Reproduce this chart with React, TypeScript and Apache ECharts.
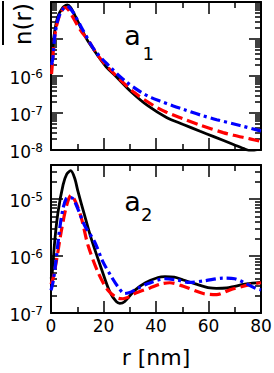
import React, { useEffect, useRef } from "react";
import * as echarts from "echarts";

const FONT = "DejaVu Sans";

// Panel a1
const a1BlackR = [0.3, 1, 2, 3, 4, 5, 6.2, 7.5, 9, 11.6, 14, 17.9, 21, 24.3, 30.6, 37, 44, 50.4, 56.8, 62, 69.5, 74, 80];
const a1BlackN = [2.5e-6, 1.0e-5, 2.8e-5, 4.7e-5, 6.3e-5, 7.6e-5, 8.3e-5, 7.1e-5, 4.5e-5, 1.86e-5, 8.9e-6, 3.5e-6, 1.78e-6, 1.05e-6, 3.7e-7, 1.55e-7, 7.6e-8, 4.9e-8, 3.2e-8, 2.3e-8, 1.41e-8, 1.05e-8, 7.4e-9];
const a1RedR = [0.2, 0.6, 1, 1.4, 2, 3, 4, 5.1, 6.5, 8, 10, 12, 14.1, 17.9, 24.3, 31.9, 38.9, 44, 50, 56.8, 65.6, 69.5, 75.8, 80];
const a1RedN = [1.12e-6, 2.5e-6, 6.3e-6, 1.12e-5, 2.1e-5, 3.8e-5, 5.6e-5, 7.1e-5, 6.3e-5, 4.3e-5, 2.4e-5, 1.45e-5, 9.5e-6, 3.55e-6, 1.1e-6, 3.5e-7, 1.62e-7, 1.05e-7, 7.1e-8, 4.7e-8, 2.95e-8, 2.5e-8, 2.0e-8, 1.7e-8];
const a1BlueR = [0.2, 0.76, 1.4, 2.7, 4.6, 5.8, 7, 9, 11.6, 16.6, 21.7, 28, 34.4, 38.2, 41.5, 46.6, 50.4, 56.8, 63.1, 72, 78.4, 80];
const a1BlueN = [2.0e-6, 3.2e-6, 1.12e-5, 3.5e-5, 6.5e-5, 7.6e-5, 7.1e-5, 4.5e-5, 2.05e-5, 5.0e-6, 2.0e-6, 7.6e-7, 3.6e-7, 2.6e-7, 2.1e-7, 1.55e-7, 1.26e-7, 8.9e-8, 6.6e-8, 4.6e-8, 3.5e-8, 3.3e-8];

// Panel a2
const a2BlackR = [0, 0.4, 1.5, 2.7, 4.6, 6, 7.5, 9, 10.3, 12.8, 15.3, 19.2, 22.4, 24.9, 26.2, 28, 31.9, 36, 40.8, 43.4, 47, 50.4, 55, 60.6, 63, 66.9, 70, 74.5, 80];
const a2BlackN = [4.0e-7, 4.7e-7, 2.0e-6, 6.0e-6, 1.78e-5, 2.75e-5, 3.16e-5, 2.35e-5, 1.35e-5, 5.2e-6, 2.05e-6, 6.0e-7, 2.35e-7, 1.58e-7, 1.48e-7, 1.58e-7, 2.5e-7, 3.4e-7, 4.2e-7, 4.35e-7, 4.25e-7, 3.8e-7, 3.25e-7, 2.75e-7, 2.7e-7, 2.75e-7, 2.95e-7, 3.25e-7, 3.45e-7];
const a2RedR = [0, 0.8, 2, 3.9, 6, 7.7, 9.5, 11.6, 14.1, 17.9, 21.7, 25.5, 27.4, 29.5, 31.9, 37.7, 42, 45.3, 50.4, 58, 63.1, 68.2, 75.8, 80];
const a2RedN = [3.2e-7, 4.1e-7, 7.9e-7, 2.7e-6, 7.9e-6, 1.17e-5, 8.7e-6, 4.6e-6, 1.55e-6, 5.2e-7, 2.5e-7, 1.82e-7, 1.78e-7, 1.9e-7, 2.2e-7, 2.75e-7, 3.25e-7, 3.4e-7, 2.95e-7, 2.2e-7, 2.1e-7, 2.55e-7, 3.15e-7, 3.4e-7];
const a2BlueR = [0, 0.8, 2, 3.3, 4.6, 5.8, 7, 8.4, 10.5, 12.8, 16.6, 19.8, 23, 25.5, 28, 30.6, 33, 37, 43.4, 48, 52.8, 58.7, 65.6, 70, 74.5, 78, 80];
const a2BlueN = [2.5e-7, 3.55e-7, 9.1e-7, 3.0e-6, 6.9e-6, 1.02e-5, 1.07e-5, 1.02e-5, 6.3e-6, 3.45e-6, 1.78e-6, 7.9e-7, 4.35e-7, 2.9e-7, 2.2e-7, 2.35e-7, 2.7e-7, 3.3e-7, 4.0e-7, 3.8e-7, 3.45e-7, 3.7e-7, 4.1e-7, 4.0e-7, 3.25e-7, 2.7e-7, 2.55e-7];

// Axes (decade exponents)
const a1Decades = [-8, -7, -6, -5, -4];
const a1LabelDecades = [-8, -7, -6];
const a2Decades = [-7, -6, -5];
const a2LabelDecades = [-7, -6, -5];
const xTickLabels = [0, 20, 40, 60, 80];

const zip = (r: number[], n: number[]) => r.map((x, i) => [x, n[i]]);

function minorLogs(decades: number[], maxExp: number) {
  const out: number[] = [];
  decades.forEach((d) => {
    for (let k = 2; k <= 9; k++) {
      const v = d + Math.log10(k);
      if (v < maxExp) out.push(v);
    }
  });
  return out;
}

export default function App() {
  const ref = useRef<HTMLDivElement>(null);
  useEffect(() => {
    if (!ref.current) return;
    const chart = echarts.init(ref.current, null, { renderer: "svg" });

    const grids = [
      { left: 51, top: 2, width: 210, height: 148 },
      { left: 51, top: 165, width: 210, height: 148 },
    ];

    const xAx = (gi: number, pos: string, labels: boolean) => ({
      type: "value",
      gridIndex: gi,
      position: pos,
      min: 0,
      max: 80,
      interval: 20,
      axisLine: { show: true, onZero: false, lineStyle: { color: "#000", width: 2 } },
      axisTick: { show: true, inside: true, length: 12, lineStyle: { color: "#000", width: 1.5 } },
      minorTick: { show: true, splitNumber: 2, length: 6, lineStyle: { color: "#000", width: 1.5 } },
      splitLine: { show: false },
      axisLabel: {
        show: labels,
        fontFamily: FONT,
        fontSize: 17,
        color: "#000",
        margin: 4,
        customValues: xTickLabels,
      },
      name: labels ? "r [nm]" : "",
      nameLocation: "middle",
      nameGap: 33,
      nameTextStyle: { fontFamily: FONT, fontSize: 22, color: "#000" },
    });

    const rich = {
      b: { fontFamily: FONT, fontSize: 17, color: "#000", lineHeight: 20, padding: [6, 0, 0, 0], verticalAlign: "bottom" },
      s: { fontFamily: FONT, fontSize: 12, color: "#000", lineHeight: 14, padding: [2, 0, 0, 0], verticalAlign: "top" },
    };

    const tickAx = (gi: number, pos: string, mn: number, mx: number, ticks: number[], len: number, line: boolean, labels: number[] | null) => ({
      type: "value",
      gridIndex: gi,
      position: pos,
      min: mn,
      max: mx,
      axisLine: { show: line, onZero: false, lineStyle: { color: "#000", width: 2 } },
      axisTick: { show: true, inside: true, length: len, customValues: ticks, lineStyle: { color: "#000", width: 1.5 } },
      splitLine: { show: false },
      axisLabel: labels
        ? {
            show: true,
            customValues: labels,
            margin: 8,
            formatter: (v: number) => `{b|10}{s|${v}}`,
            rich,
          }
        : { show: false },
    });

    const a2Max = -4.4;
    const yAxes = [
      { type: "log", gridIndex: 0, min: 1e-8, max: 1e-4, show: false },
      tickAx(0, "left", -8, -4, a1Decades, 12, true, a1LabelDecades),
      tickAx(0, "left", -8, -4, minorLogs(a1Decades, -4), 6, false, null),
      tickAx(0, "right", -8, -4, a1Decades, 12, true, null),
      tickAx(0, "right", -8, -4, minorLogs(a1Decades, -4), 6, false, null),
      { type: "log", gridIndex: 1, min: 1e-7, max: Math.pow(10, a2Max), show: false },
      tickAx(1, "left", -7, a2Max, a2Decades, 12, true, a2LabelDecades),
      tickAx(1, "left", -7, a2Max, minorLogs(a2Decades, a2Max), 6, false, null),
      tickAx(1, "right", -7, a2Max, a2Decades, 12, true, null),
      tickAx(1, "right", -7, a2Max, minorLogs(a2Decades, a2Max), 6, false, null),
    ];

    const mk = (xi: number, yi: number, r: number[], n: number[], color: string, width: number, type: any) => ({
      type: "line",
      xAxisIndex: xi,
      yAxisIndex: yi,
      data: zip(r, n),
      showSymbol: false,
      symbol: "none",
      smooth: 0.3,
      clip: true,
      lineStyle: { color, width, type, cap: "butt" },
    });

    const dashDot = [10, 4, 3, 4];
    const dashed = [11, 5];

    chart.setOption({
      animation: false,
      backgroundColor: "#fff",
      grid: grids.map((g) => ({ ...g, containLabel: false, outerBoundsMode: "none" })),
      xAxis: [xAx(0, "bottom", false), xAx(0, "top", false), xAx(1, "bottom", true), xAx(1, "top", false)],
      yAxis: yAxes,
      series: [
        mk(0, 0, a1BlackR, a1BlackN, "#000", 2.8, "solid"),
        mk(0, 0, a1RedR, a1RedN, "#ff0000", 3.2, dashed),
        mk(0, 0, a1BlueR, a1BlueN, "#0000ff", 3.2, dashDot),
        mk(2, 5, a2BlackR, a2BlackN, "#000", 2.8, "solid"),
        mk(2, 5, a2RedR, a2RedN, "#ff0000", 3.2, dashed),
        mk(2, 5, a2BlueR, a2BlueN, "#0000ff", 3.2, dashDot),
      ],
      graphic: [
        {
          type: "text",
          x: 22.5,
          y: 24,
          rotation: Math.PI / 2,
          style: { text: "n(r)", fontFamily: FONT, fontSize: 23, fill: "#000", align: "center", verticalAlign: "middle" },
        },
        { type: "line", shape: { x1: 3, y1: 1, x2: 3, y2: 45 }, style: { stroke: "#000", lineWidth: 2 } },
        { type: "text", x: 132.5, y: 35.5, style: { text: "a", fontFamily: FONT, fontSize: 27, fill: "#000", align: "center", verticalAlign: "middle" } },
        { type: "text", x: 148.3, y: 53.3, style: { text: "1", fontFamily: FONT, fontSize: 18, fill: "#000", align: "center", verticalAlign: "middle" } },
        { type: "text", x: 132.5, y: 201.7, style: { text: "a", fontFamily: FONT, fontSize: 27, fill: "#000", align: "center", verticalAlign: "middle" } },
        { type: "text", x: 146.7, y: 214, style: { text: "2", fontFamily: FONT, fontSize: 18, fill: "#000", align: "center", verticalAlign: "middle" } },
      ],
    });
    return () => chart.dispose();
  }, []);
  return <div ref={ref} style={{ position: "fixed", left: 0, top: 0, width: 274, height: 373, background: "#fff" }} />;
}
